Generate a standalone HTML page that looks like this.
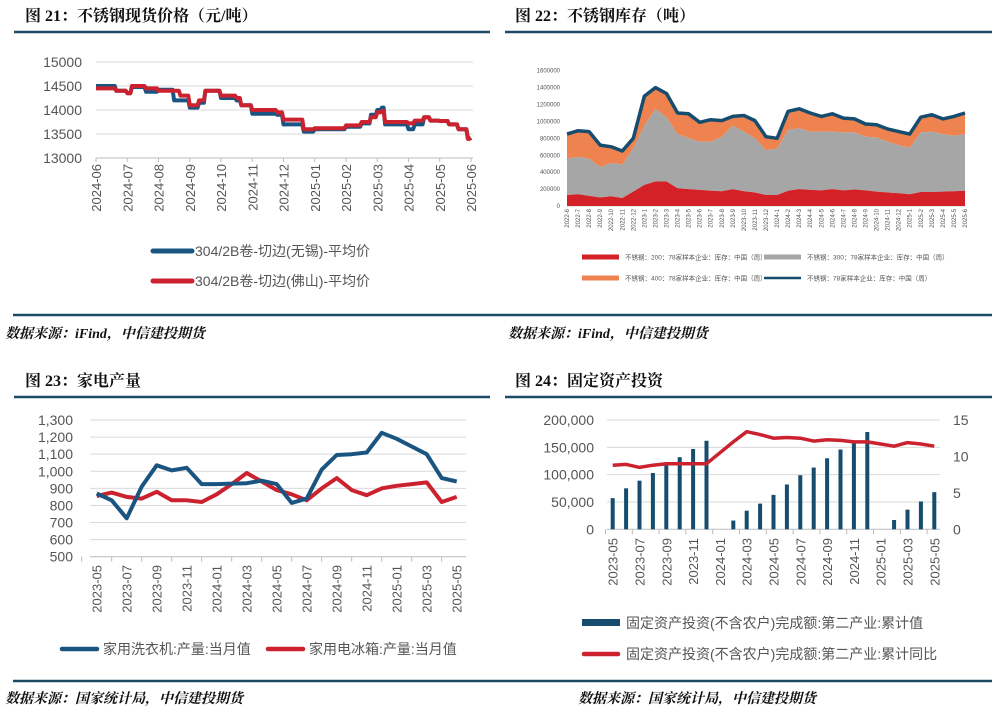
<!DOCTYPE html>
<html><head><meta charset="utf-8"><style>
html,body{margin:0;padding:0;background:#fff;}
svg{display:block;}
text{font-family:"Liberation Sans","Noto Sans CJK SC",sans-serif;}
.ttl{font-family:"Liberation Serif","Noto Serif CJK SC",serif;font-weight:bold;font-size:16px;fill:#111;}
.ftr{font-family:"Liberation Serif","Noto Serif CJK SC",serif;font-weight:bold;font-style:italic;font-size:14px;fill:#111;}
</style></head><body>
<svg id="root" width="997" height="709" viewBox="0 0 997 709" xmlns="http://www.w3.org/2000/svg">
<text class="ttl" x="25" y="21">图 21：不锈钢现货价格（元/吨）</text>
<text class="ttl" x="515" y="21">图 22：不锈钢库存（吨）</text>
<line x1="14" y1="32" x2="490" y2="32" stroke="#1c4b66" stroke-width="2.5"/>
<line x1="505" y1="32" x2="992" y2="32" stroke="#1c4b66" stroke-width="2.5"/>
<line x1="13" y1="315" x2="992" y2="315" stroke="#1c4b66" stroke-width="2.5"/>
<text class="ftr" x="5" y="338">数据来源：iFind，中信建投期货</text>
<text class="ftr" x="508" y="338">数据来源：iFind，中信建投期货</text>
<text class="ttl" x="25" y="386">图 23：家电产量</text>
<text class="ttl" x="515" y="386">图 24：固定资产投资</text>
<line x1="14" y1="397" x2="490" y2="397" stroke="#1c4b66" stroke-width="2.5"/>
<line x1="505" y1="397" x2="992" y2="397" stroke="#1c4b66" stroke-width="2.5"/>
<line x1="13" y1="681" x2="992" y2="681" stroke="#1c4b66" stroke-width="2.5"/>
<text class="ftr" x="5" y="703">数据来源：国家统计局，中信建投期货</text>
<text class="ftr" x="578" y="703">数据来源：国家统计局，中信建投期货</text>
</svg>
<script>
// ---- Chart 21 data ----
const c21Ticks = ["2024-06","2024-07","2024-08","2024-09","2024-10","2024-11","2024-12","2025-01","2025-02","2025-03","2025-04","2025-05","2025-06"];
const c21YTicks = [13000,13500,14000,14500,15000];
const c21T = [0,0.5,0.65,1,1.15,1.6,2,2.5,2.7,3,3.3,3.5,4,4.5,4.65,5,5.8,6,6.5,6.65,7,8,8.5,8.8,9,9.15,9.25,10,10.2,10.5,10.7,11,11.3,11.6,11.9,12];
const c21Wuxi = [14500,14500,14400,14350,14480,14380,14420,14200,14200,14050,14150,14400,14250,14200,14100,13920,13900,13700,13700,13550,13600,13650,13720,13900,14000,14050,13700,13600,13700,13850,13780,13770,13700,13600,13400,13420];
const c21Foshan = [14450,14450,14400,14350,14500,14450,14400,14400,14300,14100,14200,14400,14300,14250,14100,14000,13950,13800,13800,13600,13620,13680,13750,13850,13950,13980,13750,13720,13780,13850,13780,13770,13700,13600,13400,13420];
// ---- Chart 22 data ----
const c22Ticks = ["2022-6","2022-7","2022-8","2022-9","2022-10","2022-11","2022-12","2023-1","2023-2","2023-3","2023-4","2023-5","2023-6","2023-7","2023-8","2023-9","2023-10","2023-11","2023-12","2024-1","2024-2","2024-3","2024-4","2024-5","2024-6","2024-7","2024-8","2024-9","2024-10","2024-11","2024-12","2025-1","2025-2","2025-3","2025-4","2025-5","2025-6"];
const c22YTicks = [0,200000,400000,600000,800000,1000000,1200000,1400000,1600000];
const c22S200 = [130,140,120,100,115,95,170,250,290,290,210,200,190,180,175,200,175,160,130,130,180,200,190,185,200,185,195,185,170,160,150,140,165,165,170,175,180];
const c22S300 = [430,440,440,360,395,395,510,700,860,760,640,600,570,580,645,750,705,640,530,550,720,720,690,695,680,685,675,635,640,600,570,550,705,715,680,655,670];
const c22S400 = [290,310,320,260,190,160,120,350,250,280,250,290,230,260,190,110,190,210,160,120,220,230,220,180,210,170,160,150,150,150,160,160,180,200,180,230,250];
// ---- Chart 23 data ----
const c23Months = ["2023-05","2023-06","2023-07","2023-08","2023-09","2023-10","2023-11","2023-12","2024-01","2024-02","2024-03","2024-04","2024-05","2024-06","2024-07","2024-08","2024-09","2024-10","2024-11","2024-12","2025-01","2025-02","2025-03","2025-04","2025-05"];
const c23YTicks = [500,600,700,800,900,1000,1100,1200,1300];
const c23Washer = [870,830,725,910,1035,1005,1020,925,925,928,930,945,925,815,840,1010,1095,1100,1110,1225,1190,1145,1100,960,940];
const c23Fridge = [855,875,850,840,880,830,830,820,865,925,990,940,890,865,830,900,960,890,860,900,915,925,935,820,850];
// ---- Chart 24 data ----
const c24Months = c23Months;
const c24YTicks = [0,50000,100000,150000,200000];
const c24Y2Ticks = [0,5,10,15];
const c24Cum = [57000,75000,89000,103000,117000,132000,147000,162000,null,16000,34000,47000,63000,82000,99000,113000,130000,146000,162000,178000,null,17000,36000,51000,68000];
const c24Yoy = [8.8,8.9,8.5,8.8,9.0,9.0,9.0,9.0,10.5,12.0,13.4,13.0,12.5,12.6,12.5,12.1,12.3,12.2,12.0,12.0,11.7,11.4,11.9,11.7,11.4];

const NS="http://www.w3.org/2000/svg";
const root=document.getElementById('root');
function el(tag,attrs,parent){const e=document.createElementNS(NS,tag);for(const k in attrs)e.setAttribute(k,attrs[k]);(parent||root).appendChild(e);return e;}
function txt(s,attrs,parent){const e=el('text',attrs,parent);e.textContent=s;return e;}
function fmtComma(v){return v.toLocaleString('en-US');}

// ===== Chart 21 =====
(function(){
const g=el('g',{});


const x0=96,x1=471,yTop=62,yBot=158;
const X=t=>x0+t*(x1-x0)/12;
const Y=v=>yBot-(v-13000)/2000*(yBot-yTop);
c21YTicks.forEach(v=>{
 const l=el('line',{x1:x0,x2:x1+2,y1:Y(v),y2:Y(v),stroke:v===13000?'#bbb':'#d9d9d9','stroke-width':1},g);
 
 
 const t=txt(String(v),{x:82,y:Y(v)+5,'text-anchor':'end','font-size':14,fill:'#555'},g);
 
 
});
c21Ticks.forEach((s,i)=>{
 const t=txt(s,{transform:`translate(${X(i)+5},164) rotate(-90)`,'text-anchor':'end','font-size':13,fill:'#555'},g);
 
 
 const tk=el('line',{x1:X(i),x2:X(i),y1:yBot,y2:yBot+4,stroke:'#bbb'},g);
 
 
});
const path=arr=>{
 let d='M'+X(c21T[0]).toFixed(1)+','+Y(arr[0]).toFixed(1);
 for(let i=1;i<arr.length;i++){
  const xe=X(c21T[i]);
  d+='H'+(xe-1.5).toFixed(1)+'L'+xe.toFixed(1)+','+Y(arr[i]).toFixed(1);
 }
 return d;
};
const pb=el('path',{d:path(c21Wuxi),fill:'none',stroke:'#1a5581','stroke-width':4,'stroke-linejoin':'round'},g);


const pr=el('path',{d:path(c21Foshan),fill:'none',stroke:'#cc2230','stroke-width':4,'stroke-linejoin':'round'},g);


[[251,'#1a5581','304/2B卷-切边(无锡)-平均价'],[281,'#cc2230','304/2B卷-切边(佛山)-平均价']].forEach(([y,c,s])=>{
 const l=el('line',{x1:153,x2:192,y1:y,y2:y,stroke:c,'stroke-width':5,'stroke-linecap':'round'},g);
 
 
 const t=txt(s,{x:195,y:y+5,'font-size':14,fill:'#555'},g);
 
 
});
})();

// ===== Chart 22 =====
(function(){
const g=el('g',{});


const x0=567,x1=965,yTop=70.7,yBot=206;
const n=c22Ticks.length;
const X=i=>x0+i*(x1-x0)/(n-1);
const Y=v=>yBot-v/1600000*(yBot-yTop);
c22YTicks.forEach(v=>{
 const t=txt(String(v),{x:560,y:Y(v)+2,'text-anchor':'end','font-size':6,fill:'#555'},g);
 
 
});
const ax=el('line',{x1:x0,x2:x1,y1:yBot,y2:yBot,stroke:'#ccc'},g);


c22Ticks.forEach((s,i)=>{
 const t=txt(s,{transform:`translate(${X(i)+2},209) rotate(-90)`,'text-anchor':'end','font-size':6,fill:'#555'},g);
 
 
});
const c1=c22S200.map(v=>v*1000);
const c2=c22S300.map((v,i)=>c1[i]+v*1000);
const c3=c22S400.map((v,i)=>c2[i]+v*1000);
function area(top,bot){
 let d='M'+X(0)+','+Y(top[0]);
 for(let i=1;i<n;i++)d+='L'+X(i).toFixed(1)+','+Y(top[i]).toFixed(1);
 for(let i=n-1;i>=0;i--)d+='L'+X(i).toFixed(1)+','+Y(bot?bot[i]:0).toFixed(1);
 return d+'Z';
}
const a3=el('path',{d:area(c3,c2),fill:'#ef8350'},g);


const a2=el('path',{d:area(c2,c1),fill:'#a6a6a6'},g);


const a1=el('path',{d:area(c1,null),fill:'#d42027'},g);


const tl=el('path',{d:c3.map((v,i)=>(i?'L':'M')+X(i).toFixed(1)+','+Y(v).toFixed(1)).join(''),fill:'none',stroke:'#164d6e','stroke-width':3.5,'stroke-linejoin':'round'},g);


const leg=[[582,257,'rect','#d42027','不锈钢：200：78家样本企业：库存：中国（周）'],[764,257,'rect','#a6a6a6','不锈钢：300：78家样本企业：库存：中国（周）'],[582,278,'rect','#ef8350','不锈钢：400：78家样本企业：库存：中国（周）'],[764,278,'line','#164d6e','不锈钢：78家样本企业：库存：中国（周）']];
leg.forEach(([x,y,k,c,s])=>{
 const sw=k==='rect'?el('rect',{x:x,y:y-2.5,width:37,height:5,fill:c},g):el('line',{x1:x,x2:x+37,y1:y,y2:y,stroke:c,'stroke-width':2.5},g);
 
 
 const t=txt(s,{x:x+43,y:y+2.5,'font-size':6.5,fill:'#555'},g);
 
 
});
})();

// ===== Chart 23 =====
(function(){
const g=el('g',{});


const x0=96.7,x1=456.7,yTop=420,yBot=556.7,gx0=90,gx1=466;
const n=c23Months.length;
const X=i=>x0+i*(x1-x0)/(n-1);
const Y=v=>yBot-(v-500)/800*(yBot-yTop);
c23YTicks.forEach(v=>{
 const l=el('line',{x1:gx0,x2:gx1,y1:Y(v),y2:Y(v),stroke:v===500?'#bbb':'#d9d9d9'},g);
 
 
 const t=txt(fmtComma(v),{x:73,y:Y(v)+5,'text-anchor':'end','font-size':14,fill:'#555'},g);
 
 
});
c23Months.forEach((s,i)=>{
 if(i%2===0){
  const t=txt(s,{transform:`translate(${X(i)+5},565) rotate(-90)`,'text-anchor':'end','font-size':13,fill:'#555'},g);
  
  
 }
});
for(let i=0;i<n;i+=2){
 const tk=el('line',{x1:X(i)-15,x2:X(i)-15,y1:yBot,y2:yBot+5,stroke:'#bbb'},g);
 
 
}
const path=arr=>arr.map((v,i)=>(i?'L':'M')+X(i).toFixed(1)+','+Y(v).toFixed(1)).join('');
const pr=el('path',{d:path(c23Fridge),fill:'none',stroke:'#cc2230','stroke-width':4,'stroke-linejoin':'round'},g);


const pb=el('path',{d:path(c23Washer),fill:'none',stroke:'#1a5581','stroke-width':4,'stroke-linejoin':'round'},g);


[[62,'#1a5581','家用洗衣机:产量:当月值'],[268,'#cc2230','家用电冰箱:产量:当月值']].forEach(([x,c,s])=>{
 const l=el('line',{x1:x,x2:x+35,y1:649,y2:649,stroke:c,'stroke-width':4.5,'stroke-linecap':'round'},g);
 
 
 const t=txt(s,{x:x+41,y:654,'font-size':14,fill:'#555'},g);
 
 
});
})();

// ===== Chart 24 =====
(function(){
const g=el('g',{});


const x0=612.7,gx0=607,gx1=940,yTop=420,yBot=529.3,step=13.4;
const X=i=>x0+i*step;
const Y=v=>yBot-v/200000*(yBot-yTop);
const Y2=v=>yBot-v/15*(yBot-yTop);
c24YTicks.forEach(v=>{
 const l=el('line',{x1:gx0,x2:gx1,y1:Y(v),y2:Y(v),stroke:v===0?'#bbb':'#d9d9d9'},g);
 
 
 const t=txt(fmtComma(v),{x:594,y:Y(v)+5,'text-anchor':'end','font-size':14,fill:'#555'},g);
 
 
});
c24Y2Ticks.forEach(v=>{
 const t=txt(String(v),{x:953,y:Y2(v)+5,'font-size':14,fill:'#555'},g);
 
 
});
c24Months.forEach((s,i)=>{
 if(i%2===0){
  const t=txt(s,{transform:`translate(${X(i)+5},538) rotate(-90)`,'text-anchor':'end','font-size':13,fill:'#555'},g);
  
  
 }
});
for(let i=0;i<=c24Months.length;i+=2){
 const tk=el('line',{x1:X(i)-step/2-0.5,x2:X(i)-step/2-0.5,y1:yBot,y2:yBot+5,stroke:'#bbb'},g);
 
 
}
c24Cum.forEach((v,i)=>{
 if(v==null)return;
 const b=el('rect',{x:X(i)-2,y:Y(v),width:4,height:yBot-Y(v),fill:'#164d6e'},g);
 
 
});
const pl=el('path',{d:c24Yoy.map((v,i)=>(i?'L':'M')+X(i).toFixed(1)+','+Y2(v).toFixed(1)).join(''),fill:'none',stroke:'#cc2230','stroke-width':3.5,'stroke-linejoin':'round'},g);


const s1=el('rect',{x:582,y:619,width:38,height:7,fill:'#164d6e'},g);


const t1=txt('固定资产投资(不含农户)完成额:第二产业:累计值',{x:626,y:628,'font-size':14,fill:'#555'},g);


const s2=el('line',{x1:584,x2:618,y1:654,y2:654,stroke:'#cc2230','stroke-width':4.5,'stroke-linecap':'round'},g);


const t2=txt('固定资产投资(不含农户)完成额:第二产业:累计同比',{x:626,y:659,'font-size':14,fill:'#555'},g);


})();
</script>
</body></html>
